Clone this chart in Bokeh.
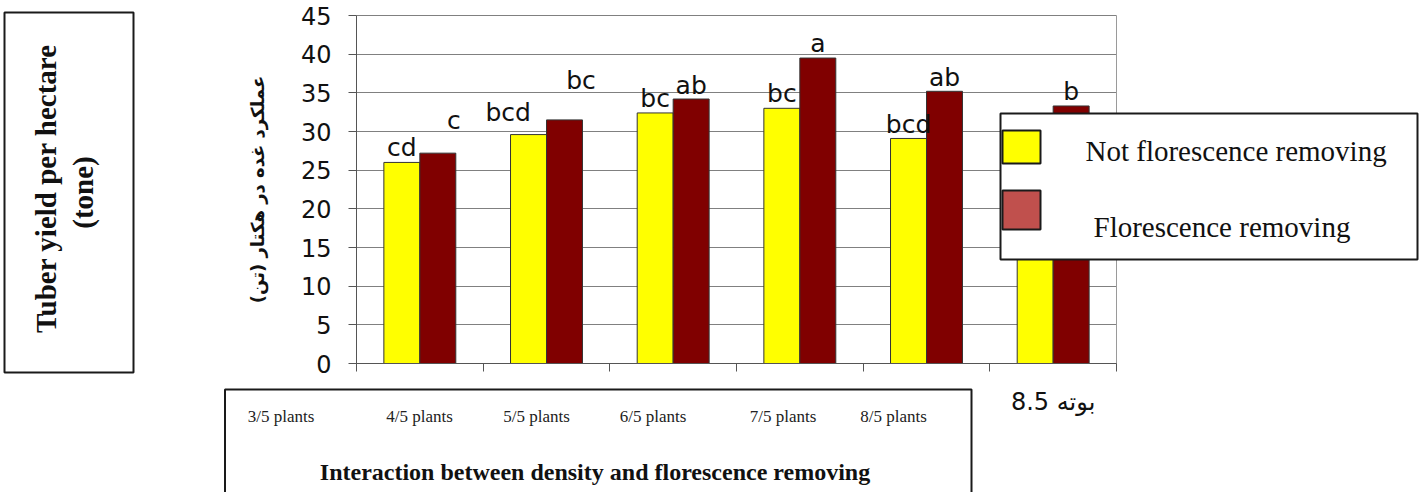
import math
from bokeh.plotting import figure
from bokeh.models import Range1d, FixedTicker, BoxAnnotation, Label, ColumnDataSource
from bokeh.core.properties import value
from bokeh.embed import file_html
from bokeh.resources import INLINE

# ---------------- data ----------------
box_labels = ["3/5 plants", "4/5 plants", "5/5 plants", "6/5 plants", "7/5 plants", "8/5 plants"]
last_tick_label = "8.5 بوته"
series_names = ["Not florescence removing", "Florescence removing"]
not_removing = [26.0, 29.6, 32.4, 33.0, 29.1, 28.8]
removing = [27.2, 31.5, 34.2, 39.5, 35.2, 33.3]
letters_not = ["cd", "bcd", "bc", "bc", "bcd", "bcd"]
letters_rem = ["c", "bc", "ab", "a", "ab", "b"]
y_ticks = [0, 5, 10, 15, 20, 25, 30, 35, 40, 45]
y_label = "\u200fعملکرد غده در هکتار (تن)\u200f"
left_title = ["Tuber yield per hectare", "(tone)"]
bottom_title = "Interaction between density and florescence removing"

# ---------------- layout (pixels) ----------------
W, H = 1419, 492
FL, FR, FT, FB = 356, 1116, 15, 363   # chart area inside the canvas
n = len(not_removing)
bar_w = 0.284
bar_off = 0.142
letter_dx_not = [0, -0.16, 0, 0, 0, 0]
letter_lift_not = [1.9, 2.9, 1.85, 1.9, 1.8, 1.85]
letter_dx_rem = [0.126, 0.13, 0, 0, 0, 0]
letter_lift_rem = [4.2, 5.1, 1.8, 1.9, 1.8, 1.9]
box_label_px = [280.5, 419, 536, 652.5, 782.5, 893]

XMAX, YMAX = n, 45


def dx(px):
    return (px - FL) / ((FR - FL) / XMAX)


def dy(py):
    return (FB - py) / ((FB - FT) / YMAX)


p = figure(width=W, height=H,
           x_range=Range1d(dx(0), dx(W)), y_range=Range1d(dy(H), dy(0)),
           output_backend="svg", toolbar_location=None,
           min_border_left=0, min_border_right=0, min_border_top=0, min_border_bottom=0,
           background_fill_color="white", border_fill_color="white",
           outline_line_color=None)

# y axis (placed at x = 0)
p.yaxis.fixed_location = 0
p.yaxis.bounds = (0, YMAX)
p.yaxis.ticker = FixedTicker(ticks=y_ticks)
p.yaxis.major_tick_out = 8
p.yaxis.major_tick_in = 0
p.yaxis.minor_tick_out = 0
p.yaxis.minor_tick_in = 0
p.yaxis.axis_line_color = "#555555"
p.yaxis.major_tick_line_color = "#555555"
p.yaxis.major_label_text_font = "DejaVu Sans"
p.yaxis.major_label_text_font_size = "24px"
p.yaxis.major_label_text_color = "#111111"
p.yaxis.major_label_standoff = 17
p.yaxis.axis_label = y_label
p.yaxis.axis_label_text_font = "DejaVu Sans"
p.yaxis.axis_label_text_font_style = "bold"
p.yaxis.axis_label_text_font_size = "18px"
p.yaxis.axis_label_text_color = "#111111"
p.yaxis.axis_label_standoff = 30

# x axis (placed at y = 0)
centers = [i + 0.5 for i in range(n)]
p.xaxis.fixed_location = 0
p.xaxis.bounds = (0, XMAX)
p.xaxis.ticker = FixedTicker(ticks=[centers[-1]], minor_ticks=list(range(n + 1)))
p.xaxis.major_label_overrides = {centers[-1]: last_tick_label}
p.xaxis.major_tick_out = 0
p.xaxis.major_tick_in = 0
p.xaxis.minor_tick_out = 8
p.xaxis.minor_tick_in = 0
p.xaxis.minor_tick_line_color = "#555555"
p.xaxis.axis_line_color = "#555555"
p.xaxis.major_label_text_font = "DejaVu Sans"
p.xaxis.major_label_text_font_size = "24px"
p.xaxis.major_label_text_color = "#111111"
p.xaxis.major_label_standoff = 16

# grid
p.xgrid.visible = False
p.ygrid.ticker = FixedTicker(ticks=y_ticks)
p.ygrid.grid_line_color = "#808080"
try:
    p.ygrid.cross_bounds = (0, XMAX)
except Exception:
    p.ygrid.visible = False
    p.segment(x0=[0] * len(y_ticks), x1=[XMAX] * len(y_ticks), y0=y_ticks, y1=y_ticks,
              line_color="#808080", line_width=1)
# right border of chart area
p.segment(x0=[XMAX], x1=[XMAX], y0=[0], y1=[YMAX], line_color="#9a9a9a", line_width=1)

# bars
src = ColumnDataSource(dict(
    x_not=[c - bar_off for c in centers],
    x_rem=[c + bar_off for c in centers],
    not_removing=not_removing,
    removing=removing,
))
p.vbar(x="x_not", top="not_removing", width=bar_w, source=src,
       fill_color="#FFFF00", line_color="#333333", line_width=1)
p.vbar(x="x_rem", top="removing", width=bar_w, source=src,
       fill_color="#800000", line_color="#333333", line_width=1)

# letters
lsrc = ColumnDataSource(dict(
    x=[c - bar_off + d for c, d in zip(centers, letter_dx_not)] +
      [c + bar_off + d for c, d in zip(centers, letter_dx_rem)],
    y=[v + l for v, l in zip(not_removing, letter_lift_not)] +
      [v + l for v, l in zip(removing, letter_lift_rem)],
    t=letters_not + letters_rem,
))
p.text(x="x", y="y", text="t", source=lsrc, text_font=value("DejaVu Sans"),
       text_font_size=value("25px"), text_align="center",
       text_baseline="alphabetic", text_color="#111111")


def box(l, r, t, b, fill=None):
    return BoxAnnotation(left=dx(l), right=dx(r), top=dy(t), bottom=dy(b),
                         fill_color=fill if fill else "white", fill_alpha=1 if fill else 0,
                         line_color="#1a1a1a", line_alpha=1, line_width=2)


# left box with English title
p.add_layout(box(4, 133, 12, 372))
p.add_layout(Label(x=dx(45), y=dy(188), text=left_title[0], angle=math.pi / 2,
                   text_align="center", text_baseline="alphabetic",
                   text_font="Liberation Serif", text_font_style="bold",
                   text_font_size="29px", text_color="#111111"))
p.add_layout(Label(x=dx(82), y=dy(192), text=left_title[1], angle=math.pi / 2,
                   text_align="center", text_baseline="alphabetic",
                   text_font="Liberation Serif", text_font_style="bold",
                   text_font_size="29px", text_color="#111111"))

# bottom box
p.add_layout(box(224.5, 971, 389, 530))
for t, px in zip(box_labels, box_label_px):
    p.add_layout(Label(x=dx(px), y=dy(415.7), text=t, text_align="center",
                       text_baseline="alphabetic", text_font="Liberation Serif",
                       text_font_size="17px", text_color="#222222"))
p.add_layout(Label(x=dx(594.5), y=dy(471.7), text=bottom_title, text_align="center",
                   text_baseline="alphabetic", text_font="Liberation Serif",
                   text_font_style="bold", text_font_size="24px", text_color="#111111"))

# legend
p.add_layout(box(1000, 1417, 113, 259, "white"))
p.add_layout(box(1002, 1040, 130, 163, "#FFFF00"))
p.add_layout(box(1002, 1040, 190, 229, "#C0504D"))
p.add_layout(Label(x=dx(1085), y=dy(150), text=series_names[0], text_align="left",
                   text_baseline="alphabetic", text_font="Liberation Serif",
                   text_font_size="29px", text_color="#111111"))
p.add_layout(Label(x=dx(1093), y=dy(226.7), text=series_names[1], text_align="left",
                   text_baseline="alphabetic", text_font="Liberation Serif",
                   text_font_size="29px", text_color="#111111"))

open("out.html", "w").write(file_html(p, INLINE))
